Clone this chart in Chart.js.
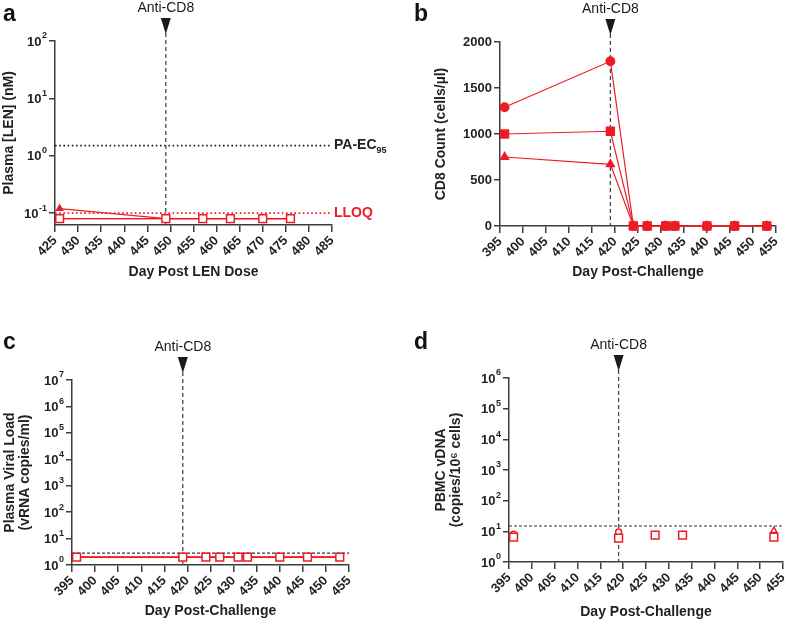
<!DOCTYPE html>
<html>
<head>
<meta charset="utf-8">
<script src="https://cdn.jsdelivr.net/npm/chart.js@4.4.1/dist/chart.umd.min.js"></script>
<style>
  body { margin: 0; background: #fff; }
  #fig { position: relative; width: 790px; height: 621px; overflow: hidden; }
  #fig canvas { position: absolute; }
  .tag { position: absolute; font: bold 23px 'Liberation Sans', Arial, sans-serif; line-height: 1; color: #111; }
</style>
</head>
<body>
<div id="fig">
  <canvas id="chartA" width="395" height="300" style="left:0;top:0"></canvas>
  <canvas id="chartB" width="395" height="300" style="left:395px;top:0"></canvas>
  <canvas id="chartC" width="395" height="321" style="left:0;top:300px"></canvas>
  <canvas id="chartD" width="395" height="321" style="left:395px;top:300px"></canvas>
  <div class="tag" style="left:3px;top:2px">a</div>
  <div class="tag" style="left:414px;top:2px">b</div>
  <div class="tag" style="left:3px;top:330px">c</div>
  <div class="tag" style="left:414px;top:330px">d</div>
</div>
<script>
const RED = '#ED1C24';
const AXIS = '#3d3d3d';
const TEXT = '#231f20';
const FONT = "'Liberation Sans', Arial, Helvetica, sans-serif";

// a - plasma LEN
const lenDays = [426, 449, 457, 463, 470, 476];
const lenSquare = [0.08, 0.08, 0.08, 0.08, 0.08, 0.08];
const lenCircle = [0.08, 0.08, 0.08, 0.08, 0.08, 0.08];
const lenTriangle = [0.12, 0.08, 0.08, 0.08, 0.08, 0.08];
const lenXTicks = [425, 430, 435, 440, 445, 450, 455, 460, 465, 470, 475, 480, 485];
const lenYTicks = [0.1, 1, 10, 100];
const PA_EC95 = 1.5;
const LEN_LLOQ = 0.1;
const lenDoseDay = 449;

// b - CD8 counts
const chDays = [396, 419, 424, 427, 431, 433, 440, 446, 453];
const cd8Square = [1000, 1030, 0, 0, 0, 0, 0, 0, 0];
const cd8Circle = [1290, 1790, 0, 0, 0, 0, 0, 0, 0];
const cd8Triangle = [750, 670, 0, 0, 0, 0, 0, 0, 0];
const chXTicks = [395, 400, 405, 410, 415, 420, 425, 430, 435, 440, 445, 450, 455];
const cd8YTicks = [0, 500, 1000, 1500, 2000];
const cd8Day = 419;

// c - plasma viral load
const vlSquare = [2, 2, 2, 2, 2, 2, 2, 2, 2];
const vlCircle = [2, 2, 2, 2, 2, 2, 2, 2, 2];
const vlTriangle = [2, 2, 2, 2, 2, 2, 2, 2, 2];
const vlYTicks = [1, 10, 100, 1e3, 1e4, 1e5, 1e6, 1e7];
const VL_LIMIT = 2.8;

// d - PBMC vDNA
const dnaDays = [396, 419, 427, 433, 453];
const dnaSquare = [6.5, 6, 7.5, 7.5, 6.5];
const dnaCircle = [8, 9.5, 7.5, 7.5, 6.5];
const dnaTriangle = [7, 7, 7.5, 7.5, 10.5];
const dnaYTicks = [1, 10, 100, 1e3, 1e4, 1e5, 1e6];
const DNA_LIMIT = 15;

// dose line, arrow, reference lines, 10^n labels
const marks = {
    id: 'marks',
    beforeDatasetsDraw(chart, args, o) {
        const {ctx, chartArea: a, scales: {x, y}} = chart;
        ctx.save();
        (o.hlines || []).forEach(h => {
            const py = y.getPixelForValue(h.value);
            ctx.strokeStyle = h.color;
            ctx.lineWidth = h.width;
            ctx.setLineDash(h.dash);
            ctx.beginPath();
            ctx.moveTo(a.left, py);
            ctx.lineTo(a.right, py);
            ctx.stroke();
        });
        const px = x.getPixelForValue(o.day);
        ctx.strokeStyle = '#4a4a4a';
        ctx.lineWidth = 1.3;
        ctx.setLineDash([4, 3]);
        ctx.beginPath();
        ctx.moveTo(px, a.top - 8);
        ctx.lineTo(px, a.bottom);
        ctx.stroke();
        ctx.restore();
    },
    afterDraw(chart, args, o) {
        const {ctx, chartArea: a, scales: {x, y}} = chart;
        const px = x.getPixelForValue(o.day);
        ctx.save();
        ctx.fillStyle = '#1a1a1a';
        ctx.beginPath();
        ctx.moveTo(px - 5, a.top - 23);
        ctx.lineTo(px + 5, a.top - 23);
        ctx.lineTo(px, a.top - 7);
        ctx.closePath();
        ctx.fill();
        ctx.font = '14px ' + FONT;
        ctx.textAlign = 'center';
        ctx.textBaseline = 'alphabetic';
        ctx.fillText('Anti-CD8', px, a.top - 29);

        (o.hlines || []).filter(h => h.label).forEach(h => {
            const py = y.getPixelForValue(h.value);
            ctx.textAlign = 'left';
            ctx.textBaseline = 'middle';
            ctx.fillStyle = h.textColor;
            ctx.font = 'bold 14px ' + FONT;
            ctx.fillText(h.label, a.right + 2, py);
            if (h.sub) {
                const w = ctx.measureText(h.label).width;
                ctx.font = 'bold 9px ' + FONT;
                ctx.fillText(h.sub, a.right + 2 + w, py + 5);
            }
        });

        // log axis labels as 10 with a raised exponent
        if (y.type === 'logarithmic') {
            const right = a.left - 8;
            ctx.fillStyle = TEXT;
            ctx.textAlign = 'right';
            ctx.textBaseline = 'middle';
            y.ticks.forEach(t => {
                const py = y.getPixelForValue(t.value);
                const e = String(Math.round(Math.log10(t.value)));
                ctx.font = 'bold 9px ' + FONT;
                const ew = ctx.measureText(e).width;
                ctx.fillText(e, right, py - 5);
                ctx.font = 'bold 13px ' + FONT;
                ctx.fillText('10', right - ew - 0.5, py + 1);
            });
        }
        ctx.restore();
    }
};

function series(days, vals, style, radius, fill, showLine) {
    return {
        data: days.map((d, i) => ({x: d, y: vals[i]})),
        borderColor: RED,
        borderWidth: 1.2,
        pointStyle: style,
        pointRadius: radius,
        pointBorderColor: RED,
        pointBorderWidth: 1.5,
        pointBackgroundColor: fill,
        showLine: showLine,
        tension: 0,
        clip: false
    };
}

function tickFont() { return {family: FONT, size: 13, weight: 'bold'}; }

function makeChart(id, p) {
    const cv = document.getElementById(id);
    const yScale = {
        type: p.log ? 'logarithmic' : 'linear',
        min: p.yMin, max: p.yMax,
        afterBuildTicks: s => { s.ticks = p.yTicks.map(v => ({value: v})); },
        ticks: {
            color: TEXT, font: tickFont(), padding: 2,
            callback: v => p.log ? '' : v
        },
        grid: {drawOnChartArea: false, tickLength: 6, color: AXIS, lineWidth: 1.5},
        border: {color: AXIS, width: 1.5},
        title: {display: true, text: p.yTitle, color: TEXT, padding: 0,
                font: {family: FONT, size: 14, weight: 'bold', lineHeight: p.yLine || 1.2}},
        afterFit: s => { s.width = p.area.l - p.yTitleLeft; s.paddingTop = 0; s.paddingBottom = 0; }
    };
    const xScale = {
        type: 'linear', min: p.xTicks[0], max: p.xTicks[p.xTicks.length - 1],
        afterBuildTicks: s => { s.ticks = p.xTicks.map(v => ({value: v})); },
        ticks: {color: TEXT, font: tickFont(), autoSkip: false, minRotation: 45, maxRotation: 45, padding: 1},
        grid: {drawOnChartArea: false, tickLength: 7, color: AXIS, lineWidth: 1.5},
        border: {color: AXIS, width: 1.5},
        title: {display: true, text: p.xTitle, color: TEXT, padding: 0,
                font: {family: FONT, size: 14, weight: 'bold'}},
        afterFit: s => { s.height = p.xTitleBottom - p.area.b; s.paddingLeft = 0; s.paddingRight = 0; }
    };
    return new Chart(cv, {
        type: 'line',
        data: {datasets: p.datasets},
        options: {
            responsive: false,
            animation: false,
            events: [],
            layout: {padding: {left: p.yTitleLeft, top: p.area.t, right: cv.width - p.area.r, bottom: cv.height - p.xTitleBottom}},
            scales: {x: xScale, y: yScale},
            plugins: {legend: {display: false}, tooltip: {enabled: false}, marks: p.marks}
        },
        plugins: [marks]
    });
}

const fillIf = (vals, limit) => vals.map(v => v >= limit ? RED : '#fff');

makeChart('chartA', {
    log: true, yMin: 0.062, yMax: 100, yTicks: lenYTicks, xTicks: lenXTicks,
    yTitle: 'Plasma [LEN] (nM)', xTitle: 'Day Post LEN Dose',
    area: {l: 55, r: 332, t: 41, b: 225}, yTitleLeft: 1, xTitleBottom: 281,
    datasets: [
        series(lenDays, lenSquare, 'rect', 5.5, fillIf(lenSquare, LEN_LLOQ), true),
        series(lenDays, lenCircle, 'circle', 3, fillIf(lenCircle, LEN_LLOQ), true),
        series(lenDays, lenTriangle, 'triangle', 3.5, fillIf(lenTriangle, LEN_LLOQ), true)
    ],
    marks: {day: lenDoseDay, hlines: [
        {value: PA_EC95, color: '#222', width: 1.6, dash: [1.6, 2.6], label: 'PA-EC', sub: '95', textColor: '#222'},
        {value: LEN_LLOQ, color: RED, width: 1.6, dash: [1.6, 2.6], label: 'LLOQ', textColor: RED}
    ]}
});

makeChart('chartB', {
    log: false, yMin: 0, yMax: 2000, yTicks: cd8YTicks, xTicks: chXTicks,
    yTitle: 'CD8 Count (cells/µl)', xTitle: 'Day Post-Challenge',
    area: {l: 105, r: 381, t: 42, b: 226}, yTitleLeft: 38, xTitleBottom: 281,
    datasets: [
        series(chDays, cd8Square, 'rect', 5.5, RED, true),
        series(chDays, cd8Triangle, 'triangle', 4.5, RED, true),
        series(chDays, cd8Circle, 'circle', 4.2, RED, true)
    ],
    marks: {day: cd8Day, hlines: []}
});

makeChart('chartC', {
    log: true, yMin: 1, yMax: 1e7, yTicks: vlYTicks, xTicks: chXTicks,
    yTitle: ['Plasma Viral Load', '(vRNA copies/ml)'], yLine: 1.05, xTitle: 'Day Post-Challenge',
    area: {l: 72, r: 349, t: 80, b: 265}, yTitleLeft: 3, xTitleBottom: 320,
    datasets: [
        series(chDays, vlSquare, 'rect', 5.5, fillIf(vlSquare, VL_LIMIT), true),
        series(chDays, vlCircle, 'circle', 2.8, fillIf(vlCircle, VL_LIMIT), true),
        series(chDays, vlTriangle, 'triangle', 3.2, fillIf(vlTriangle, VL_LIMIT), true)
    ],
    marks: {day: cd8Day, hlines: [
        {value: VL_LIMIT, color: '#333', width: 1.2, dash: [3, 2]}
    ]}
});

makeChart('chartD', {
    log: true, yMin: 1, yMax: 1e6, yTicks: dnaYTicks, xTicks: chXTicks,
    yTitle: ['PBMC vDNA', '(copies/10⁶ cells)'], yLine: 1.05, xTitle: 'Day Post-Challenge',
    area: {l: 114, r: 391, t: 78, b: 262}, yTitleLeft: 39, xTitleBottom: 321,
    datasets: [
        series(dnaDays, dnaSquare, 'rect', 5.5, fillIf(dnaSquare, DNA_LIMIT), false),
        series(dnaDays, dnaCircle, 'circle', 3, fillIf(dnaCircle, DNA_LIMIT), false),
        series(dnaDays, dnaTriangle, 'triangle', 3.5, fillIf(dnaTriangle, DNA_LIMIT), false)
    ],
    marks: {day: cd8Day, hlines: [
        {value: DNA_LIMIT, color: '#333', width: 1.1, dash: [3, 2]}
    ]}
});
</script>
</body>
</html>
